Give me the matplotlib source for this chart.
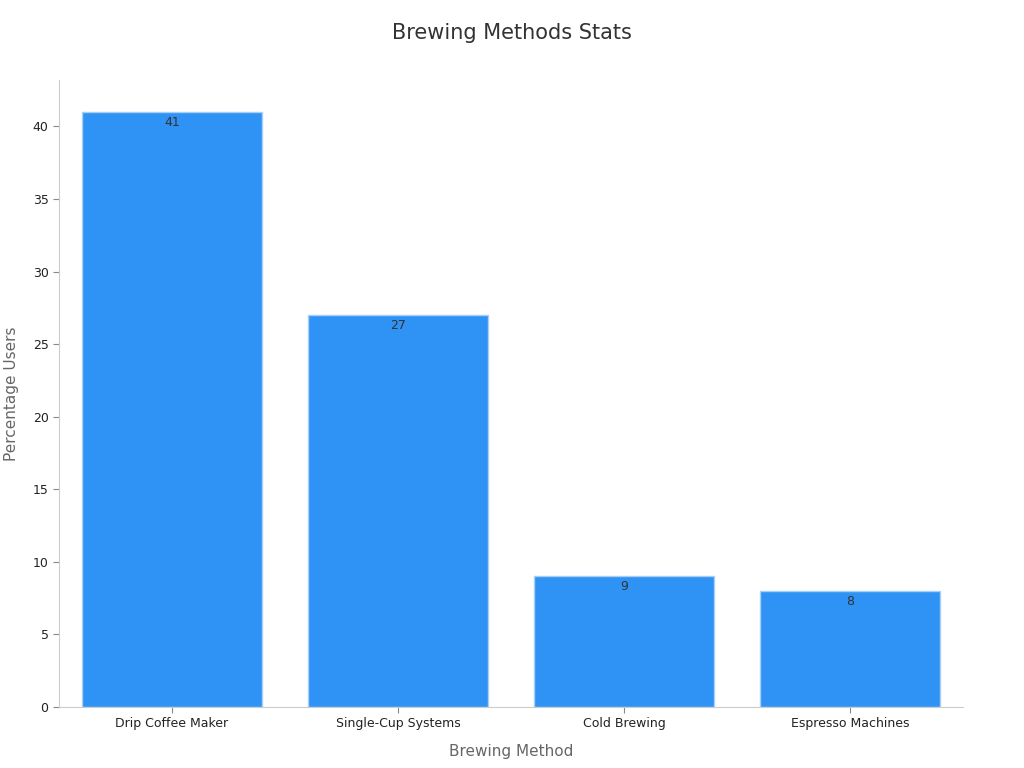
import matplotlib
matplotlib.use("Agg")
import matplotlib.pyplot as plt

categories = ["Drip Coffee Maker", "Single-Cup Systems", "Cold Brewing", "Espresso Machines"]
values = [41, 27, 9, 8]

fig = plt.figure(figsize=(10.24, 7.68), dpi=100)
ax = fig.add_axes([0.0576, 0.0794, 0.8828, 0.8164])
x = range(len(categories))
bars = ax.bar(x, values, width=0.8, color="#2E93F5", edgecolor="#A9CFF7", linewidth=1)
for xi, v in zip(x, values):
    ax.text(xi, v - 0.25, str(v), ha="center", va="top", fontsize=9, color="#333333")
ax.set_xlim(-0.5, 3.5)
ax.set_ylim(0, 43.2)
ax.set_xticks(list(x))
ax.set_xticklabels(categories, fontsize=9, color="#222222")
ax.set_yticks(range(0, 41, 5))
ax.tick_params(axis="y", labelsize=9, colors="#222222")
ax.tick_params(axis="both", color="#888888", length=4)
for s in ["top", "right"]:
    ax.spines[s].set_visible(False)
for s in ["left", "bottom"]:
    ax.spines[s].set_color("#CCCCCC")
ax.set_xlabel("Brewing Method", fontsize=11, color="#666666", labelpad=10)
ax.set_ylabel("Percentage Users", fontsize=11, color="#666666", labelpad=10)
fig.suptitle("Brewing Methods Stats", fontsize=15, color="#333333", y=0.97)
fig.savefig("out.png", dpi=100)
